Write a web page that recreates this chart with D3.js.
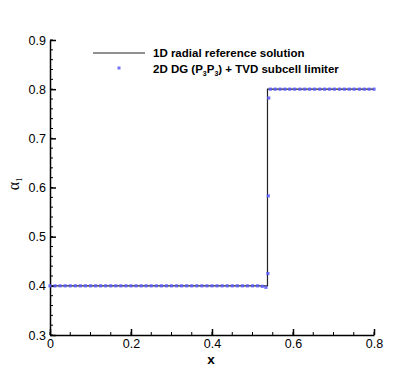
<!DOCTYPE html>
<html>
<head>
<meta charset="utf-8">
<script src="https://cdn.jsdelivr.net/npm/d3@7"></script>
<style>
  body { margin: 0; background: #fff; }
  text { font-family: "Liberation Sans", Arial, sans-serif; }
</style>
</head>
<body>
<script>
var width = 419;
var height = 371;

// reference solution (step)
var refX = [0, 0.537, 0.537, 0.8];
var refY = [0.4, 0.4, 0.8, 0.8];

// DG points
var dgX = [0, 0.0125, 0.025, 0.0375, 0.05, 0.0625, 0.075, 0.0875, 0.1, 0.1125,
  0.125, 0.1375, 0.15, 0.1625, 0.175, 0.1875, 0.2, 0.2125, 0.225, 0.2375,
  0.25, 0.2625, 0.275, 0.2875, 0.3, 0.3125, 0.325, 0.3375, 0.35, 0.3625,
  0.375, 0.3875, 0.4, 0.4125, 0.425, 0.4375, 0.45, 0.4625, 0.475, 0.4875,
  0.5, 0.5125, 0.524, 0.533, 0.538, 0.539, 0.54,
  0.544, 0.556, 0.568, 0.58, 0.592, 0.604, 0.617, 0.629, 0.641, 0.653,
  0.666, 0.678, 0.69, 0.702, 0.715, 0.727, 0.739, 0.751, 0.764, 0.776,
  0.788, 0.8];
var dgY = [0.4, 0.4, 0.4, 0.4, 0.4, 0.4, 0.4, 0.4, 0.4, 0.4,
  0.4, 0.4, 0.4, 0.4, 0.4, 0.4, 0.4, 0.4, 0.4, 0.4,
  0.4, 0.4, 0.4, 0.4, 0.4, 0.4, 0.4, 0.4, 0.4, 0.4,
  0.4, 0.4, 0.4, 0.4, 0.4, 0.4, 0.4, 0.4, 0.4, 0.4,
  0.4, 0.4, 0.399, 0.397, 0.425, 0.583, 0.782,
  0.8, 0.8, 0.8, 0.8, 0.8, 0.8, 0.8, 0.8, 0.8, 0.8,
  0.8, 0.8, 0.8, 0.8, 0.8, 0.8, 0.8, 0.8, 0.8, 0.8,
  0.8, 0.8];

var xTicks = [0, 0.2, 0.4, 0.6, 0.8];
var yTicks = [0.3, 0.4, 0.5, 0.6, 0.7, 0.8, 0.9];
var legendLabels = ['1D radial reference solution', '2D DG (P3P3) + TVD subcell limiter'];

var plotLeft = 50, plotRight = 374, plotTop = 40, plotBottom = 335;

var x = d3.scaleLinear().domain([0, 0.8]).range([plotLeft, plotRight]);
var y = d3.scaleLinear().domain([0.3, 0.9]).range([plotBottom, plotTop]);

var svg = d3.select('body')
  .append('svg')
  .attr('width', width)
  .attr('height', height);

// minor ticks
var xMinor = d3.range(0, 0.8001, 0.05);
var yMinor = d3.range(0.3, 0.9001, 0.02);

svg.append('g').selectAll('line')
  .data(xMinor)
  .enter().append('line')
  .attr('x1', function(d) { return x(d); })
  .attr('x2', function(d) { return x(d); })
  .attr('y1', plotBottom).attr('y2', plotBottom - 3)
  .attr('stroke', '#000').attr('stroke-width', 1);

svg.append('g').selectAll('line')
  .data(yMinor)
  .enter().append('line')
  .attr('y1', function(d) { return y(d); })
  .attr('y2', function(d) { return y(d); })
  .attr('x1', plotLeft).attr('x2', plotLeft + 3)
  .attr('stroke', '#000').attr('stroke-width', 1);

// axes with inward ticks
var xAxis = svg.append('g')
  .attr('transform', 'translate(0,' + plotBottom + ')')
  .call(d3.axisTop(x).tickValues(xTicks).tickSize(6).tickSizeOuter(0)
    .tickFormat(function(d) { return d === 0 ? '0' : d3.format('.1f')(d); }));
xAxis.select('.domain').attr('stroke-width', 1.5);
xAxis.selectAll('.tick line').attr('stroke-width', 1.5);
xAxis.selectAll('.tick text')
  .attr('y', 12.5).attr('dy', 0)
  .attr('font-size', 12.5).attr('fill', '#000');

var yAxis = svg.append('g')
  .attr('transform', 'translate(' + plotLeft + ',0)')
  .call(d3.axisRight(y).tickValues(yTicks).tickSize(6).tickSizeOuter(0).tickFormat(d3.format('.1f')));
yAxis.select('.domain').attr('stroke-width', 1.5);
yAxis.selectAll('.tick line').attr('stroke-width', 1.5);
yAxis.selectAll('.tick text')
  .attr('x', -4).attr('text-anchor', 'end')
  .attr('font-size', 12.5).attr('fill', '#000');

// reference line
var line = d3.line()
  .x(function(d) { return x(d[0]); })
  .y(function(d) { return y(d[1]); });

svg.append('path')
  .datum(d3.zip(refX, refY))
  .attr('d', line)
  .attr('fill', 'none')
  .attr('stroke', '#222')
  .attr('stroke-width', 1.2);

// DG points
svg.append('g').selectAll('rect')
  .data(d3.zip(dgX, dgY))
  .enter().append('rect')
  .attr('x', function(d) { return x(d[0]) - 1.6; })
  .attr('y', function(d) { return y(d[1]) - 1.6; })
  .attr('width', 3.2).attr('height', 3.2)
  .attr('fill', '#5a5aff')
  .attr('fill-opacity', 0.85);

// legend
var legend = svg.append('g');
legend.append('line')
  .attr('x1', 93).attr('x2', 145).attr('y1', 53).attr('y2', 53)
  .attr('stroke', '#222').attr('stroke-width', 1.2);
legend.append('rect')
  .attr('x', 117.5).attr('y', 66.5).attr('width', 3).attr('height', 3)
  .attr('fill', '#5a5aff').attr('fill-opacity', 0.85);
legend.append('text')
  .attr('x', 153).attr('y', 57)
  .attr('font-size', 11.5).attr('font-weight', 'bold')
  .text(legendLabels[0]);
var t2 = legend.append('text')
  .attr('x', 153).attr('y', 73)
  .attr('font-size', 11.5).attr('font-weight', 'bold');
t2.append('tspan').text('2D DG (P');
t2.append('tspan').attr('font-size', 7).attr('dy', 3).text('3');
t2.append('tspan').attr('dy', -3).text('P');
t2.append('tspan').attr('font-size', 7).attr('dy', 3).text('3');
t2.append('tspan').attr('dy', -3).text(') + TVD subcell limiter');

// axis titles
svg.append('text')
  .attr('x', 211).attr('y', 364)
  .attr('text-anchor', 'middle')
  .attr('font-size', 13.5).attr('font-weight', 'bold')
  .text('x');

var yl = svg.append('text')
  .attr('transform', 'translate(19,184) rotate(-90)')
  .attr('text-anchor', 'middle')
  .attr('font-size', 16)
  .style('font-family', '"Liberation Serif", serif');
yl.append('tspan').text('α');
yl.append('tspan').attr('font-size', 8).attr('dy', 3).text('1');
</script>
</body>
</html>
